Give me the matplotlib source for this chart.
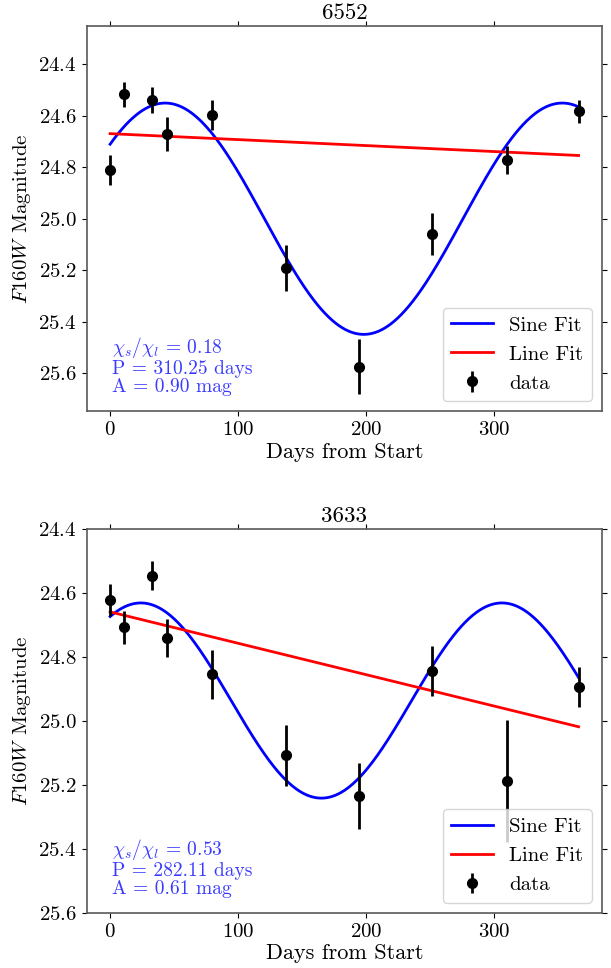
import numpy as np
import matplotlib
matplotlib.use("Agg")
import matplotlib.pyplot as plt

plt.rcParams['font.family'] = 'serif'
plt.rcParams['font.serif'] = ['cmr10']
plt.rcParams['mathtext.fontset'] = 'cm'
plt.rcParams['axes.formatter.use_mathtext'] = True
plt.rcParams['font.size'] = 15

# days from start (same epochs for both stars)
days = [0, 10.7, 32.5, 44.2, 79.8, 137.4, 194.8, 251.5, 310.1, 366.0]

# star 6552
mag_6552 = [24.81, 24.516, 24.538, 24.669, 24.597, 25.191, 25.575, 25.06, 24.772, 24.582]
err_6552 = [0.057, 0.049, 0.052, 0.066, 0.057, 0.09, 0.106, 0.082, 0.053, 0.044]
# sine fit: mean, peak-to-peak amplitude, period, day of brightest point
sine_6552 = [25.0, 0.90, 310.25, 43.0]
# line fit: value at first and last day
line_6552 = [24.669, 24.754]
chi_6552 = 0.18

# star 3633
mag_3633 = [24.622, 24.707, 24.546, 24.740, 24.854, 25.107, 25.235, 24.843, 25.187, 24.894]
err_3633 = [0.05, 0.051, 0.046, 0.06, 0.077, 0.095, 0.103, 0.078, 0.19, 0.062]
sine_3633 = [24.936, 0.61, 282.11, 24.0]
line_3633 = [24.659, 25.018]
chi_3633 = 0.53

ylims = {'6552': (25.75, 24.25), '3633': (25.6, 24.4)}


def draw(ax, name, mag, err, sine, line, chi):
    t = np.linspace(days[0], days[-1], 500)
    mean, amp, period, t0 = sine
    ax.plot(t, mean - amp / 2 * np.cos(2 * np.pi * (t - t0) / period),
            color='blue', lw=2, label='Sine Fit')
    ax.plot([days[0], days[-1]], line, color='red', lw=2, label='Line Fit')
    ax.errorbar(days, mag, yerr=err, fmt='o', color='black', ms=7,
                elinewidth=2, label='data')
    ax.set_ylim(*ylims[name])
    ax.set_yticks([24.4, 24.6, 24.8, 25.0, 25.2, 25.4, 25.6])
    ax.set_xticks([0, 100, 200, 300])
    ax.set_title(name, fontsize=16.5, pad=5)
    ax.set_xlabel('Days from Start', fontsize=16, labelpad=2)
    ax.set_ylabel('$F160W$ Magnitude', fontsize=15)
    ax.tick_params(direction='out', top=True, right=True, labelsize=15)
    for s in ax.spines.values():
        s.set_color('0.35')
        s.set_linewidth(1.2)
    ax.legend(loc='lower right', fontsize=15)
    txt = (r'$\chi_s/\chi_l$ = %.2f' % chi + '\n' +
           'P = %.2f days' % period + '\n' + 'A = %.2f mag' % amp)
    ax.text(0.05, 0.04, txt, transform=ax.transAxes, color='#3b3bff',
            fontsize=14, va='bottom', ha='left', linespacing=1.0)


fig = plt.figure(figsize=(6.11, 9.68), dpi=100)
ax1 = fig.add_axes([0.1419, 0.5749, 0.8434, 0.3983])
ax2 = fig.add_axes([0.1419, 0.0568, 0.8434, 0.3967])
draw(ax1, '6552', mag_6552, err_6552, sine_6552, line_6552, chi_6552)
draw(ax2, '3633', mag_3633, err_3633, sine_3633, line_3633, chi_3633)

fig.savefig('out.png', dpi=100)
